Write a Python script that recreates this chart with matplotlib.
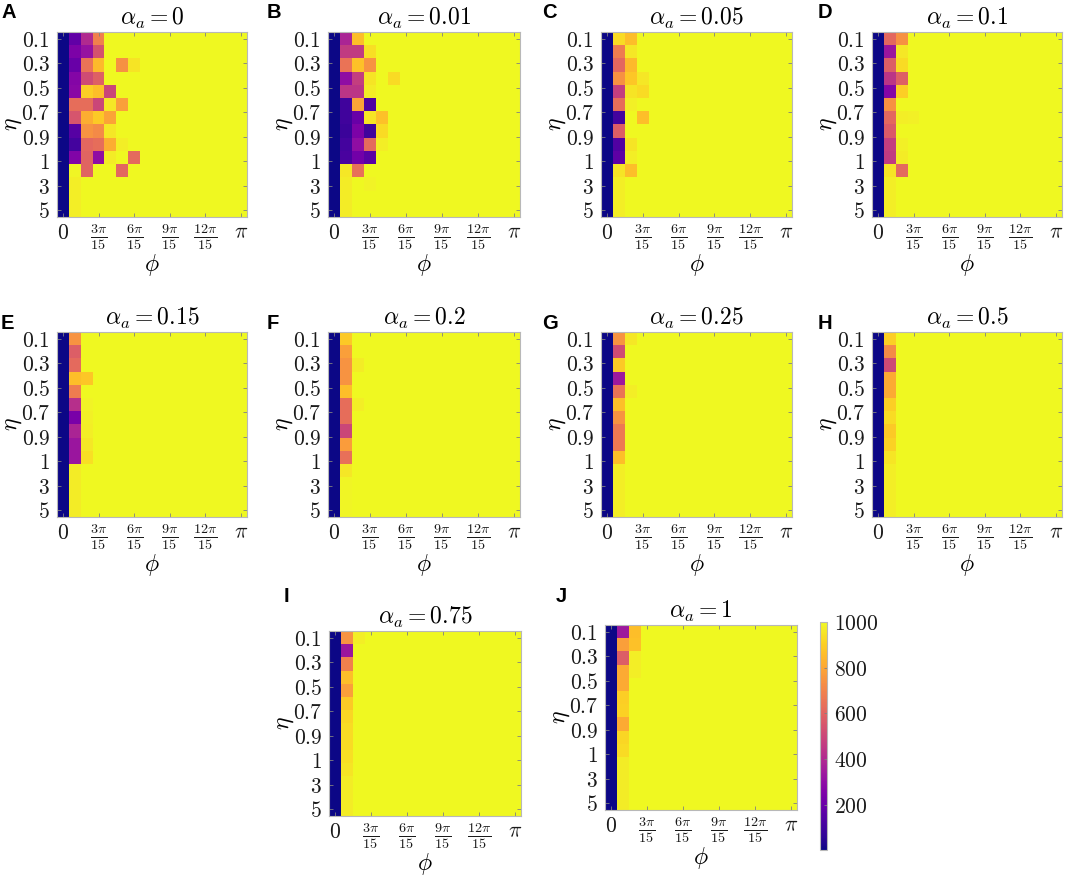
import numpy as np
import matplotlib.pyplot as plt

plt.rcParams['mathtext.fontset'] = 'cm'
plt.rcParams['font.family'] = ['DejaVu Sans']

# 网格: 14 个 eta 行, 16 个 phi 列 (0 .. pi)
N_ETA, N_PHI = 14, 16
SAT = 1000  # 右侧全黄区域的饱和值

eta_ticklabels = ['0.1', '0.3', '0.5', '0.7', '0.9', '1', '3', '5']
phi_ticklabels = [r'$0$', r'$\frac{3\pi}{15}$', r'$\frac{6\pi}{15}$',
                  r'$\frac{9\pi}{15}$', r'$\frac{12\pi}{15}$', r'$\pi$']
alpha_values = ['0', '0.01', '0.05', '0.1', '0.15', '0.2', '0.25', '0.5', '0.75', '1']
letters = ['A', 'B', 'C', 'D', 'E', 'F', 'G', 'H', 'I', 'J']

# 每行只写出左侧非饱和的列, 其余列为 SAT
panel_a = [
    [1, 180, 400, 690],
    [1, 250, 320, 540],
    [1, 200, 650, 850, 1000, 740, 950],
    [1, 270, 520, 590],
    [1, 280, 900, 860, 500],
    [1, 630, 630, 500, 960, 780],
    [1, 550, 820, 890, 790],
    [1, 150, 750, 720, 960],
    [1, 110, 610, 630, 820, 975],
    [1, 260, 600, 300, 970, 1000, 620],
    [1, 990, 600, 1000, 1000, 610],
    [1, 975],
    [1, 975],
    [1, 975],
]
panel_b = [
    [1, 380, 860],
    [1, 460, 460, 940],
    [1, 650, 870, 750],
    [1, 300, 470, 950, 1000, 930],
    [1, 440, 440, 970],
    [1, 100, 790, 130],
    [1, 100, 200, 950, 870],
    [1, 90, 250, 100, 930],
    [1, 110, 300, 620, 975],
    [1, 120, 220, 160],
    [1, 960, 640],
    [1, 970, 1000, 985],
    [1, 970],
    [1, 970],
]
panel_c = [
    [1, 930, 860],
    [1, 680, 960],
    [1, 610, 850],
    [1, 740, 880, 960],
    [1, 470, 950, 930],
    [1, 630, 980],
    [1, 110, 1000, 860],
    [1, 580],
    [1, 140, 950],
    [1, 170, 975],
    [1, 950, 860],
    [1, 975],
    [1, 975],
    [1, 975],
]
panel_d = [
    [1, 610, 740],
    [1, 330, 960],
    [1, 580, 930],
    [1, 440, 590],
    [1, 270, 900],
    [1, 740],
    [1, 610, 975, 980],
    [1, 570],
    [1, 470, 980],
    [1, 460, 970],
    [1, 950, 620],
    [1, 975],
    [1, 975],
    [1, 975],
]
panel_e = [
    [1, 750], [1, 580], [1, 620], [1, 860, 880], [1, 680],
    [1, 420, 985], [1, 240, 980], [1, 380, 975], [1, 330, 960], [1, 330, 940],
    [1, 970], [1, 970], [1, 970], [1, 970],
]
panel_f = [
    [1, 890], [1, 780], [1, 750, 970], [1, 750], [1, 860],
    [1, 630, 975], [1, 630], [1, 500], [1, 770], [1, 640],
    [1, 960], [1, 990], [1, 990], [1, 990],
]
panel_g = [
    [1, 750, 960], [1, 520], [1, 890], [1, 340], [1, 650, 975],
    [1, 860], [1, 750], [1, 670], [1, 670], [1, 860],
    [1, 975], [1, 975], [1, 975], [1, 975],
]
panel_h = [
    [1, 900], [1, 720], [1, 510], [1, 810], [1, 810],
    [1, 900], [1, 930], [1, 890], [1, 910], [1, 955],
    [1, 975], [1, 975], [1, 975], [1, 975],
]
panel_i = [
    [1, 750, 975], [1, 330], [1, 690], [1, 860], [1, 780],
    [1, 890], [1, 920], [1, 930], [1, 930], [1, 940],
    [1, 950], [1, 970], [1, 970], [1, 970],
]
panel_j = [
    [1, 340, 860], [1, 780, 870], [1, 580, 975], [1, 810, 975], [1, 810],
    [1, 900], [1, 910], [1, 810], [1, 920], [1, 930],
    [1, 970], [1, 970], [1, 970], [1, 970],
]
panels = [panel_a, panel_b, panel_c, panel_d, panel_e,
          panel_f, panel_g, panel_h, panel_i, panel_j]

W, H = 1065, 875
fig = plt.figure(figsize=(W / 100, H / 100), dpi=100)


def rect(l, t, r, b):
    return [l / W, 1 - b / H, (r - l) / W, (b - t) / H]


def full_grid(rows):
    return np.array([r + [SAT] * (N_PHI - len(r)) for r in rows], dtype=float)


# 像素坐标 (左, 上, 右, 下)
cols = [(57, 247), (328, 520), (601, 792), (872, 1062)]
boxes = []
for (t, b) in [(32, 217), (332, 517)]:
    for (l, r) in cols:
        boxes.append((l, t, r, b))
boxes.append((329, 631, 521, 816))
boxes.append((605, 625, 797, 810))

# 字母位置
letter_pos = [(1, 13), (267, 13), (542, 13), (818, 13),
              (1, 323), (267, 323), (542, 323), (818, 323),
              (284, 596), (556, 596)]

for k, rows in enumerate(panels):
    l, t, r, b = boxes[k]
    ax = fig.add_axes(rect(l, t, r, b))
    im = ax.imshow(full_grid(rows), cmap='plasma', vmin=1, vmax=1000,
                   aspect='auto', interpolation='nearest')
    ax.set_xticks([0, 3, 6, 9, 12, 15])
    ax.set_xticklabels(phi_ticklabels, fontsize=15.5)
    for lbl in ax.get_xticklabels():
        if 'frac' in lbl.get_text():
            lbl.set_fontsize(14.5)
    ax.set_yticks(np.linspace(0, N_ETA - 1, len(eta_ticklabels)))
    ax.set_yticklabels(['$' + s + '$' for s in eta_ticklabels], fontsize=15.5)
    ax.tick_params(direction='in', top=True, right=True, length=3, width=0.6,
                   color='0.5', labelcolor='0.1')
    ax.tick_params(axis='x', pad=4)
    ax.tick_params(axis='y', pad=5)
    for s in ax.spines.values():
        s.set_color('0.72')
        s.set_linewidth(0.8)
    ax.set_title(r'$\alpha_a = ' + alpha_values[k] + '$', fontsize=17, pad=5)
    fig.text((l - 45) / W, 1 - ((t + b) / 2) / H, r'$\eta$', fontsize=17,
             rotation=90, ha='center', va='center')
    fig.text(((l + r) / 2) / W, 1 - (b + 48) / H, r'$\phi$', fontsize=17,
             ha='center', va='center')
    lx, ly = letter_pos[k]
    fig.text(lx / W, 1 - ly / H, letters[k], fontsize=14.5, fontweight='bold',
             family='Liberation Sans', ha='left', va='center')

cax = fig.add_axes(rect(820, 622, 827, 850))
cbar = fig.colorbar(im, cax=cax, ticks=[200, 400, 600, 800, 1000])
cbar.set_ticklabels([r'$200$', r'$400$', r'$600$', r'$800$', r'$1000$'])
cax.tick_params(direction='in', length=2, width=0.6, color='0.5',
                labelsize=15.5, labelcolor='0.1', pad=5)
cbar.outline.set_edgecolor('0.72')
cbar.outline.set_linewidth(0.8)

fig.savefig('out.png', dpi=100)
